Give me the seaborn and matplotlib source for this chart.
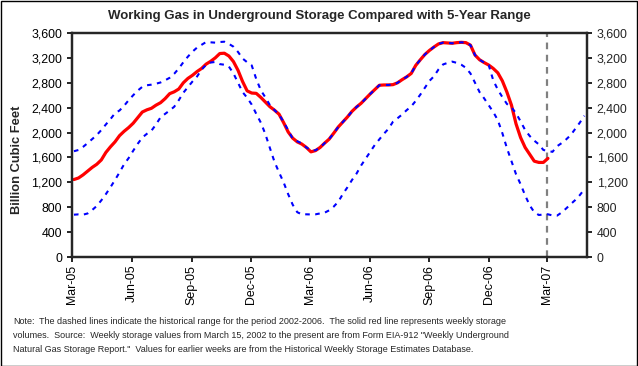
import numpy as np
import pandas as pd
import seaborn as sns
import matplotlib.pyplot as plt
import matplotlib.dates as mdates
from matplotlib.patches import Rectangle
from matplotlib.ticker import FuncFormatter, MultipleLocator

# weekly working gas (Bcf), from 2005-03-04
storage = [1245, 1270, 1320, 1380, 1440, 1490, 1560, 1680, 1770, 1850,
           1950, 2020, 2080, 2150, 2240, 2330, 2365, 2390, 2440, 2480,
           2545, 2625, 2655, 2700, 2800, 2870, 2920, 2980, 3030, 3100,
           3145, 3200, 3270, 3275, 3230, 3140, 3000, 2820, 2670, 2635,
           2630, 2565, 2490, 2415, 2360, 2295, 2160, 2010, 1910, 1850,
           1815, 1760, 1690, 1710, 1760, 1830, 1895, 1990, 2090, 2170,
           2250, 2340, 2410, 2470, 2545, 2620, 2690, 2760, 2765, 2765,
           2770, 2800, 2850, 2895, 2950, 3080, 3170, 3255, 3320, 3375,
           3425, 3445, 3440, 3435, 3445, 3450, 3445, 3405, 3245, 3170,
           3125, 3085, 3030, 2960, 2830, 2650, 2440, 2140, 1920, 1760,
           1650, 1540, 1520, 1520, 1585]

# 5-year range 2002-2006, upper and lower edge
range_max = [1700, 1720, 1770, 1830, 1895, 1960, 2040, 2130, 2215, 2310,
             2355, 2430, 2520, 2600, 2675, 2735, 2760, 2770, 2785, 2805,
             2840, 2880, 2945, 3030, 3130, 3220, 3300, 3365, 3410, 3455,
             3450, 3445, 3455, 3460, 3425, 3380, 3295, 3190, 3130, 3080,
             2860, 2680, 2565, 2440, 2360, 2290, 2170, 2040, 1900, 1860,
             1825, 1760, 1715, 1715, 1760, 1830, 1895, 1990, 2090, 2170,
             2250, 2340, 2410, 2470, 2545, 2620, 2690, 2760, 2765, 2765,
             2770, 2800, 2850, 2895, 2950, 3080, 3170, 3255, 3320, 3375,
             3425, 3445, 3440, 3435, 3445, 3450, 3445, 3405, 3245, 3170,
             3125, 3085, 2840, 2690, 2570, 2460, 2405, 2310, 2180, 2040,
             1945, 1870, 1810, 1720, 1705, 1690, 1780, 1830, 1890, 1960,
             2060, 2160, 2270]

range_min = [680, 685, 680, 700, 755, 820, 910, 1010, 1120, 1237,
             1360, 1490, 1590, 1708, 1820, 1920, 1980, 2030, 2130, 2245,
             2300, 2355, 2415, 2520, 2640, 2730, 2820, 2900, 3010, 3090,
             3125, 3135, 3100, 3090, 3060, 2950, 2800, 2650, 2560, 2450,
             2300, 2160, 1975, 1750, 1530, 1360, 1200, 1010, 840, 720,
             685, 686, 684, 686, 700, 712, 750, 810, 889, 1012,
             1120, 1237, 1340, 1470, 1580, 1690, 1800, 1890, 1980, 2060,
             2174, 2230, 2290, 2360, 2420, 2510, 2610, 2720, 2830, 2905,
             3016, 3095, 3120, 3140, 3120, 3090, 3040, 2950, 2800, 2650,
             2550, 2440, 2330, 2200, 1990, 1750, 1540, 1330, 1170, 990,
             830, 720, 675, 682, 686, 668, 665, 715, 780, 850,
             916, 995, 1090]

title = "Working Gas in Underground Storage Compared with 5-Year Range"
note_first = "The dashed lines indicate the historical range for the period 2002-2006.  The solid red line represents weekly storage"
note_lines = [
    "volumes.  Source:  Weekly storage values from March 15, 2002 to the present are from Form EIA-912 \"Weekly Underground",
    "Natural Gas Storage Report.\"  Values for earlier weeks are from the Historical Weekly Storage Estimates Database.",
]

weeks_store = pd.date_range("2005-03-04", periods=len(storage), freq="7D")
weeks_range = pd.date_range("2005-03-04", periods=len(range_max), freq="7D")

sns.set_style("white")
plt.rcParams['font.family'] = ['Liberation Sans', 'DejaVu Sans']

fig = plt.figure(figsize=(6.38, 3.66), dpi=100)
ax = fig.add_axes([72/638, 1-257/366, (587-72)/638, (257-33)/366])

# red first, range dashes drawn over it like in the original
sns.lineplot(x=weeks_store, y=storage, ax=ax, color="#ff0000", lw=2.3, zorder=2)
sns.lineplot(x=weeks_range, y=range_max, ax=ax, color="#0000ff", lw=1.5,
             linestyle=(0, (2.2, 2.6)), zorder=3)
sns.lineplot(x=weeks_range, y=range_min, ax=ax, color="#0000ff", lw=1.5,
             linestyle=(0, (2.2, 2.6)), zorder=3)
ax.axvline(pd.Timestamp("2007-03-01"), color="#808080", lw=1.6,
           linestyle=(0, (3, 2.5)), zorder=1)

ax.set_xlim(pd.Timestamp("2005-03-01"), pd.Timestamp("2007-05-01"))
ax.set_ylim(0, 3600)
ax.yaxis.set_major_locator(MultipleLocator(400))
ax.yaxis.set_major_formatter(FuncFormatter(lambda v, p: f"{int(v):,}"))
ax.xaxis.set_major_locator(mdates.MonthLocator(bymonth=[3, 6, 9, 12]))
ax.xaxis.set_major_formatter(mdates.DateFormatter("%b-%y"))
ax.set_xlabel("")
ax.set_ylabel("")
for s in ax.spines.values():
    s.set_color("black")
    s.set_linewidth(1.6)
ax.tick_params(axis="both", direction="out", length=3.5, width=1.2, color="black",
               labelsize=8.9, labelcolor="black", left=True, bottom=True)
ax.tick_params(axis="x", labelrotation=90, pad=2)

ax2 = ax.twinx()
ax2.set_ylim(0, 3600)
ax2.yaxis.set_major_locator(MultipleLocator(400))
ax2.yaxis.set_major_formatter(FuncFormatter(lambda v, p: f"{int(v):,}"))
ax2.tick_params(axis="y", direction="out", length=3.5, width=1.2, color="black",
                labelsize=8.9, right=True)
for s in ax2.spines.values():
    s.set_linewidth(1.6)

fig.text(0.5, 1-16/366, title, ha="center", va="center", fontsize=9.5, fontweight="bold")
fig.text(17/638, 1-160/366, "Billion Cubic Feet", ha="center", va="center",
         rotation=90, fontsize=9.3, fontweight="bold")

note_font = ['Liberation Sans Narrow', 'Liberation Sans', 'DejaVu Sans']
nsize = 6.5
fig.text(13/638, 1-322/366, "Note:", ha="left", va="center", fontsize=nsize, family=note_font)
fig.text(39/638, 1-322/366, note_first, ha="left", va="center", fontsize=nsize, family=note_font)
fig.text(13/638, 1-336/366, note_lines[0], ha="left", va="center", fontsize=nsize, family=note_font)
fig.text(13/638, 1-350/366, note_lines[1], ha="left", va="center", fontsize=nsize, family=note_font)

fig.patches.append(Rectangle((0.5/638, 0.5/366), 1-1.5/638, 1-1.5/366, transform=fig.transFigure,
                             fill=False, edgecolor="black", lw=1))

fig.savefig("out.png", dpi=100)
